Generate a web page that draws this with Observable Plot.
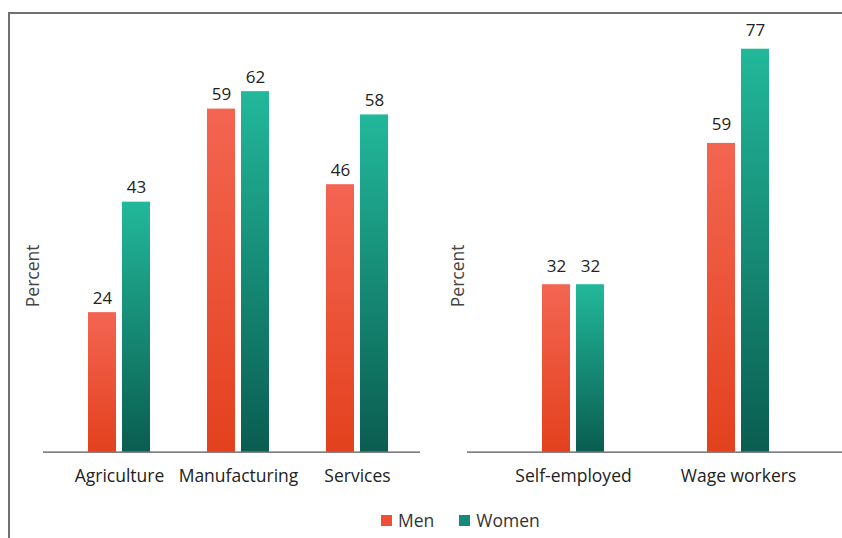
<!DOCTYPE html>
<html>
<head>
<meta charset="utf-8">
<script src="https://cdn.jsdelivr.net/npm/d3@7"></script>
<script src="https://cdn.jsdelivr.net/npm/@observablehq/plot@0.6"></script>
<style>
  html, body { margin: 0; padding: 0; background: #fff; }
  body { width: 842px; height: 538px; overflow: hidden; position: relative; font-family: "Open Sans", sans-serif; }
  #frame { position: absolute; left: 8px; top: 12px; width: 900px; height: 600px;
           border-left: 2px solid #707070; border-top: 2px solid #707070; box-sizing: border-box; }
  .panel { position: absolute; top: 0; }
  #legend { position: absolute; top: 507px; left: 381px; display: flex;
            gap: 25px; font-size: 17.5px; color: #333; line-height: 26px; }
  #legend span.item { display: inline-flex; align-items: center; }
  #legend span.sw { display: inline-block; width: 11px; height: 11px; margin-right: 6px; }
</style>
</head>
<body>
<div id="frame"></div>
<div id="left" class="panel" style="left:0"></div>
<div id="right" class="panel" style="left:421px"></div>
<div id="legend"></div>
<script>
// ---- data ----
const sectors = ["Agriculture", "Manufacturing", "Services"];
const sectorMen = [24, 59, 46];
const sectorWomen = [43, 62, 58];

const employment = ["Self-employed", "Wage workers"];
const employmentMen = [32, 59];
const employmentWomen = [32, 77];

const seriesNames = ["Men", "Women"];
const colorsTop = {Men: "#f36552", Women: "#22b89a"};
const colorsBottom = {Men: "#e3411d", Women: "#0a5d50"};
const swatchColors = {Men: "#ef4f37", Women: "#15897a"};

function panel(id, cats, men, women, opts) {
  const rows = [];
  cats.forEach((c, i) => {
    rows.push({cat: c, sex: "Men", value: men[i]});
    rows.push({cat: c, sex: "Women", value: women[i]});
  });
  const menRows = rows.filter(d => d.sex === "Men");
  const womenRows = rows.filter(d => d.sex === "Women");
  const gid = s => `grad-${id}-${s}`;
  const defs = () => {
    const d = d3.create("svg:defs");
    for (const s of seriesNames) {
      const g = d.append("linearGradient").attr("id", gid(s))
        .attr("x1", 0).attr("y1", 0).attr("x2", 0).attr("y2", 1);
      g.append("stop").attr("offset", "0%").attr("stop-color", colorsTop[s]);
      g.append("stop").attr("offset", "100%").attr("stop-color", colorsBottom[s]);
    }
    return d.node();
  };
  const off = 17;
  const chart = Plot.plot({
    width: 421,
    height: 538,
    marginTop: 33,
    marginBottom: 86.3,
    marginLeft: opts.marginLeft,
    marginRight: opts.marginRight,
    style: {fontFamily: "Open Sans, sans-serif", fontSize: "17px", color: "#222", background: "transparent"},
    x: {domain: cats, range: opts.xRange, paddingInner: opts.pi, paddingOuter: opts.pi / 2, label: null},
    y: {domain: opts.yDomain, axis: null},
    marks: [
      defs,
      Plot.barY(menRows, {x: "cat", y: "value", dx: -off, fill: `url(#${gid("Men")})`}),
      Plot.barY(womenRows, {x: "cat", y: "value", dx: off, fill: `url(#${gid("Women")})`}),
      Plot.text(menRows, {x: "cat", y: "value", dx: -off, dy: opts.labelDy, text: d => String(d.value), lineAnchor: "bottom", fill: "#222", fontSize: 17}),
      Plot.text(womenRows, {x: "cat", y: "value", dx: off, dy: opts.labelDy, text: d => String(d.value), lineAnchor: "bottom", fill: "#222", fontSize: 17}),
      Plot.ruleY([0], {stroke: "#555", strokeWidth: 1.3}),
      Plot.axisX({tickSize: 0, tickPadding: 17.5, fontSize: 17.5, fill: "#222", label: null}),
      Plot.text(["Percent"], {frameAnchor: "left", textAnchor: "middle", rotate: -90, dx: opts.labelDx, dy: 33, fill: "#444", fontSize: 17.5})
    ]
  });
  document.getElementById(id).appendChild(chart);
}

panel("left", sectors, sectorMen, sectorWomen, {
  marginLeft: 43, marginRight: 1, xRange: [59, 417.8], pi: 1 - 28 / 119.6, yDomain: [0, 72], labelDx: -10, labelDy: -9
});
panel("right", employment, employmentMen, employmentWomen, {
  marginLeft: 46, marginRight: 0, xRange: [69.5, 399.5], pi: 1 - 28 / 165, yDomain: [0, 80], labelDx: -9, labelDy: -13
});

const legend = document.getElementById("legend");
for (const s of seriesNames) {
  const item = document.createElement("span");
  item.className = "item";
  const sw = document.createElement("span");
  sw.className = "sw";
  sw.style.background = swatchColors[s];
  item.appendChild(sw);
  item.appendChild(document.createTextNode(s));
  legend.appendChild(item);
}
</script>
</body>
</html>
